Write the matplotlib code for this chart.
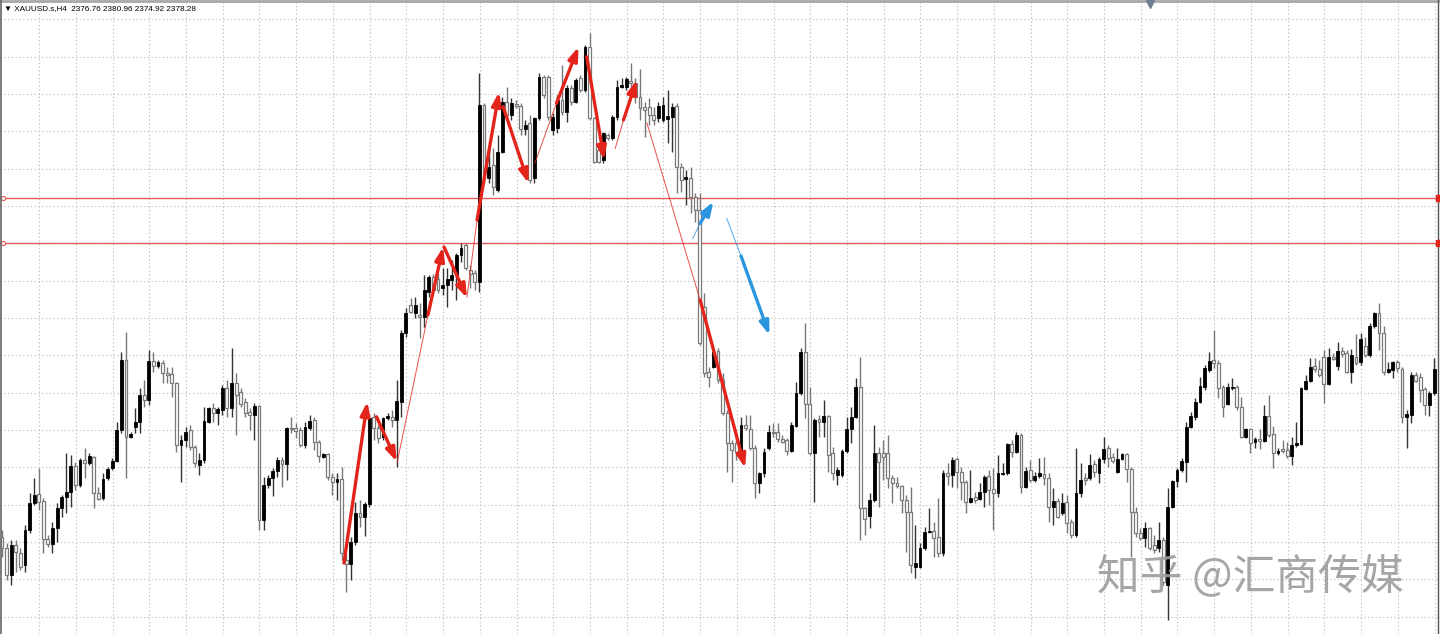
import matplotlib
matplotlib.use("Agg")
import matplotlib.pyplot as plt
import numpy as np

# XAUUSD.s H4 candles
opens = [2335.75, 2333.0, 2326.25, 2333.75, 2331.75, 2328.75, 2337.5, 2344.25, 2346.5, 2344.75,
         2335.25, 2334.0, 2338.0, 2343.0, 2345.75, 2347.0, 2353.5, 2348.75, 2355.0, 2354.25,
         2355.75, 2346.75, 2345.5, 2350.5, 2353.0, 2354.75, 2362.5, 2380.0, 2360.75, 2363.25,
         2364.5, 2371.25, 2370.0, 2379.75, 2378.5, 2379.25, 2376.75, 2376.5, 2374.25, 2358.75,
         2360.0, 2362.5, 2358.25, 2353.75, 2355.0, 2364.5, 2368.0, 2366.75, 2367.5, 2373.0,
         2368.0, 2374.25, 2372.0, 2369.5, 2367.0, 2366.25, 2368.5, 2340.0, 2348.75, 2350.5,
         2352.25, 2355.0, 2354.0, 2363.0, 2363.0, 2362.5, 2358.75, 2363.0, 2365.0, 2359.5,
         2355.75, 2356.5, 2350.75, 2349.5, 2350.25, 2330.0, 2329.0, 2334.5, 2341.75, 2340.75,
         2344.0, 2365.75, 2363.0, 2360.75, 2365.5, 2365.75, 2365.0, 2369.5, 2386.75, 2393.75,
         2391.75, 2391.25, 2390.75, 2397.0, 2400.75, 2400.25, 2398.0, 2398.75, 2400.0, 2401.25,
         2406.25, 2408.75, 2402.5, 2401.75, 2399.5, 2443.75, 2425.5, 2428.75, 2422.5, 2432.0,
         2444.5, 2441.25, 2444.0, 2443.5, 2437.75, 2439.25, 2425.5, 2440.5, 2450.75, 2450.75,
         2437.5, 2438.0, 2445.0, 2442.0, 2448.0, 2444.5, 2450.5, 2447.5, 2458.25, 2440.5,
         2432.5, 2430.0, 2436.25, 2435.5, 2440.75, 2448.25, 2448.25, 2449.75, 2449.25, 2445.75,
         2443.25, 2443.25, 2441.25, 2440.5, 2440.0, 2440.25, 2440.75, 2443.5, 2428.25, 2425.25,
         2425.5, 2420.75, 2417.5, 2393.25, 2377.0, 2378.25, 2382.25, 2375.0, 2366.75, 2359.25,
         2359.25, 2357.5, 2363.75, 2362.75, 2358.0, 2349.25, 2351.75, 2358.0, 2362.0, 2362.0,
         2360.25, 2360.0, 2357.25, 2363.5, 2371.75, 2382.0, 2369.0, 2356.75, 2365.25, 2364.5,
         2366.0, 2356.75, 2351.25, 2351.25, 2357.25, 2362.75, 2365.75, 2373.25, 2343.0, 2341.0,
         2345.0, 2356.75, 2356.75, 2356.75, 2350.5, 2349.25, 2348.5, 2345.0, 2342.0, 2328.25,
         2328.25, 2333.0, 2337.0, 2337.25, 2335.75, 2331.75, 2351.75, 2351.25, 2355.25, 2352.0,
         2349.5, 2344.5, 2345.75, 2345.25, 2347.0, 2351.0, 2347.75, 2346.75, 2351.5, 2351.75,
         2359.0, 2357.0, 2361.25, 2348.25, 2352.5, 2350.0, 2351.0, 2351.5, 2350.5, 2343.25,
         2344.75, 2341.75, 2344.5, 2339.5, 2336.25, 2346.75, 2350.5, 2350.5, 2354.0, 2351.75,
         2355.25, 2358.0, 2355.75, 2352.0, 2355.25, 2356.5, 2352.75, 2342.0, 2336.75, 2335.5,
         2338.0, 2333.75, 2333.0, 2335.0, 2323.75, 2343.25, 2349.75, 2352.5, 2354.5, 2363.25,
         2365.75, 2369.5, 2373.25, 2377.5, 2380.0, 2379.25, 2373.25, 2369.0, 2373.0, 2373.25,
         2368.25, 2360.75, 2362.75, 2359.5, 2360.25, 2359.75, 2366.0, 2361.5, 2356.75, 2357.75,
         2357.5, 2356.0, 2358.75, 2359.0, 2372.75, 2374.75, 2378.5, 2377.75, 2380.75, 2374.0,
         2380.75, 2378.5, 2382.25, 2381.75, 2377.0, 2380.75, 2379.5, 2383.5, 2381.25, 2388.5,
         2391.75, 2386.75, 2377.0, 2377.5, 2379.5, 2377.75, 2365.75, 2366.25, 2376.25, 2375.75,
         2372.75, 2368.75, 2371.75]
highs = [2337.5, 2334.25, 2335.0, 2335.0, 2333.0, 2338.75, 2346.75, 2350.5, 2353.0, 2345.5,
         2336.25, 2339.5, 2344.25, 2346.25, 2356.75, 2356.25, 2354.5, 2355.5, 2358.0, 2356.75,
         2356.0, 2348.25, 2351.75, 2353.25, 2355.5, 2364.5, 2382.0, 2387.0, 2362.0, 2368.0,
         2373.0, 2375.0, 2382.5, 2382.0, 2380.0, 2380.0, 2378.25, 2378.25, 2374.5, 2361.25,
         2363.25, 2363.75, 2358.75, 2356.75, 2368.25, 2368.25, 2369.25, 2368.25, 2373.75, 2375.0,
         2383.0, 2376.75, 2373.0, 2370.5, 2368.0, 2369.25, 2368.75, 2350.75, 2351.25, 2353.0,
         2355.75, 2355.75, 2363.25, 2365.75, 2364.25, 2363.25, 2364.5, 2366.25, 2365.75, 2360.0,
         2356.75, 2356.75, 2351.75, 2351.75, 2353.25, 2331.75, 2335.75, 2344.5, 2345.0, 2344.5,
         2366.25, 2366.75, 2363.75, 2365.75, 2366.75, 2367.5, 2375.0, 2387.5, 2393.0, 2395.5,
         2395.75, 2394.25, 2401.25, 2401.25, 2401.5, 2401.75, 2403.0, 2403.0, 2405.0, 2406.75,
         2409.25, 2409.25, 2403.75, 2402.5, 2451.75, 2444.25, 2432.5, 2433.0, 2436.25, 2445.75,
         2448.25, 2445.5, 2445.0, 2444.25, 2440.0, 2441.25, 2440.75, 2451.75, 2451.25, 2451.25,
         2441.75, 2446.25, 2453.75, 2448.75, 2448.75, 2450.5, 2451.25, 2458.75, 2461.75, 2440.75,
         2433.25, 2437.0, 2436.75, 2441.25, 2450.0, 2450.5, 2450.75, 2454.25, 2450.5, 2452.75,
         2444.5, 2445.5, 2443.25, 2444.5, 2445.75, 2447.5, 2444.25, 2444.25, 2429.25, 2427.5,
         2428.25, 2421.75, 2421.75, 2396.75, 2378.25, 2383.0, 2383.0, 2376.75, 2367.5, 2360.0,
         2360.5, 2365.75, 2366.25, 2366.25, 2358.75, 2352.0, 2358.0, 2363.75, 2364.25, 2364.25,
         2361.25, 2360.5, 2364.5, 2374.5, 2383.0, 2389.25, 2373.25, 2365.5, 2366.25, 2370.0,
         2366.25, 2358.25, 2353.25, 2357.75, 2365.75, 2368.25, 2375.5, 2380.75, 2343.25, 2346.75,
         2363.75, 2358.25, 2360.0, 2361.25, 2351.25, 2350.75, 2348.75, 2346.25, 2348.25, 2338.75,
         2334.25, 2338.25, 2343.0, 2339.5, 2345.5, 2352.5, 2354.25, 2355.75, 2355.75, 2353.25,
         2350.0, 2352.5, 2347.0, 2349.25, 2351.25, 2352.5, 2353.0, 2356.25, 2354.25, 2359.25,
         2360.0, 2362.0, 2361.75, 2353.25, 2355.0, 2352.0, 2355.5, 2355.75, 2351.75, 2348.0,
         2345.5, 2346.75, 2346.25, 2340.25, 2358.0, 2354.25, 2351.75, 2356.5, 2355.0, 2355.75,
         2360.75, 2358.75, 2356.75, 2358.0, 2356.75, 2356.75, 2353.25, 2343.25, 2338.0, 2339.5,
         2338.25, 2336.25, 2339.5, 2335.75, 2348.0, 2350.0, 2353.0, 2355.5, 2364.5, 2367.0,
         2370.5, 2375.75, 2378.75, 2382.0, 2387.5, 2380.0, 2373.75, 2374.25, 2375.5, 2373.75,
         2370.75, 2363.0, 2363.0, 2360.75, 2362.75, 2368.75, 2371.25, 2363.5, 2358.0, 2360.0,
         2359.5, 2360.75, 2364.5, 2373.25, 2376.25, 2380.5, 2380.5, 2380.0, 2382.5, 2383.0,
         2381.75, 2384.5, 2383.25, 2382.5, 2382.75, 2386.5, 2386.75, 2385.75, 2389.25, 2392.0,
         2394.25, 2388.5, 2379.5, 2379.75, 2380.0, 2378.25, 2367.5, 2377.0, 2377.0, 2376.75,
         2373.25, 2372.25, 2380.5]
lows = [2330.75, 2325.0, 2323.75, 2327.0, 2327.5, 2327.0, 2336.75, 2343.75, 2342.5, 2331.75,
        2333.25, 2331.75, 2334.5, 2340.75, 2341.75, 2343.25, 2347.5, 2348.25, 2350.5, 2353.75,
        2343.0, 2345.0, 2345.0, 2350.0, 2352.5, 2354.5, 2361.75, 2350.5, 2360.5, 2361.75,
        2361.75, 2368.25, 2368.75, 2377.0, 2378.0, 2374.25, 2374.25, 2370.75, 2357.0, 2349.5,
        2358.25, 2357.5, 2353.25, 2351.25, 2354.25, 2364.25, 2364.5, 2363.75, 2366.25, 2365.75,
        2365.75, 2361.25, 2368.25, 2365.75, 2362.5, 2360.0, 2337.5, 2337.5, 2348.0, 2346.0,
        2350.75, 2348.25, 2350.0, 2361.75, 2360.5, 2358.25, 2358.0, 2362.5, 2357.5, 2354.5,
        2355.5, 2350.0, 2346.25, 2345.0, 2330.0, 2322.0, 2325.0, 2333.75, 2338.25, 2336.0,
        2343.25, 2360.0, 2359.25, 2360.0, 2365.0, 2363.25, 2353.25, 2365.75, 2385.75, 2391.75,
        2390.5, 2385.5, 2388.25, 2395.75, 2396.75, 2396.75, 2396.25, 2393.25, 2397.5, 2395.0,
        2404.5, 2402.5, 2398.0, 2397.5, 2397.0, 2424.25, 2424.25, 2421.25, 2422.0, 2431.75,
        2440.0, 2440.0, 2443.0, 2436.25, 2436.25, 2424.25, 2424.25, 2440.0, 2445.5, 2440.0,
        2436.25, 2436.75, 2441.25, 2439.5, 2443.75, 2444.25, 2447.0, 2447.0, 2440.0, 2429.25,
        2429.25, 2429.25, 2435.0, 2435.0, 2440.0, 2448.0, 2447.5, 2448.25, 2444.25, 2440.0,
        2435.75, 2438.75, 2438.75, 2439.5, 2439.5, 2434.25, 2432.0, 2421.75, 2422.0, 2418.75,
        2416.75, 2414.5, 2383.75, 2375.75, 2373.25, 2378.0, 2374.25, 2366.25, 2352.0, 2349.5,
        2355.0, 2356.75, 2362.5, 2357.5, 2345.5, 2346.75, 2350.75, 2357.5, 2360.75, 2359.5,
        2359.25, 2356.25, 2357.0, 2363.25, 2371.25, 2365.5, 2356.25, 2344.5, 2360.75, 2360.75,
        2352.0, 2350.0, 2348.75, 2350.75, 2356.75, 2359.25, 2365.5, 2335.0, 2336.25, 2338.0,
        2344.5, 2343.25, 2350.0, 2348.0, 2344.25, 2348.0, 2341.75, 2332.0, 2326.75, 2325.5,
        2328.0, 2332.5, 2336.75, 2330.75, 2330.75, 2331.0, 2348.75, 2348.25, 2348.0, 2345.0,
        2341.75, 2344.25, 2344.25, 2345.0, 2343.25, 2343.75, 2337.5, 2345.75, 2351.25, 2351.25,
        2355.75, 2356.75, 2346.75, 2348.0, 2349.5, 2349.5, 2350.5, 2348.75, 2339.5, 2338.75,
        2340.5, 2341.25, 2336.75, 2335.5, 2335.75, 2345.75, 2348.75, 2350.0, 2350.75, 2349.25,
        2354.25, 2353.25, 2354.25, 2351.75, 2355.0, 2349.5, 2330.75, 2335.75, 2335.0, 2333.25,
        2332.5, 2331.75, 2332.0, 2323.75, 2315.0, 2343.0, 2348.25, 2352.0, 2349.5, 2363.0,
        2365.0, 2369.25, 2372.5, 2377.0, 2378.0, 2370.5, 2365.75, 2368.75, 2372.5, 2367.5,
        2360.5, 2360.5, 2356.75, 2358.0, 2357.75, 2359.5, 2360.75, 2353.0, 2356.25, 2356.75,
        2355.5, 2353.75, 2358.25, 2358.75, 2372.5, 2374.5, 2377.0, 2375.75, 2369.25, 2373.75,
        2380.0, 2377.5, 2380.75, 2376.75, 2374.25, 2378.75, 2378.75, 2380.75, 2380.75, 2388.0,
        2382.5, 2376.25, 2376.75, 2375.5, 2377.0, 2364.25, 2358.0, 2364.25, 2374.5, 2369.5,
        2366.25, 2366.0, 2371.25]
closes = [2333.0, 2326.25, 2333.75, 2332.0, 2328.25, 2337.5, 2344.25, 2346.25, 2344.5, 2335.25,
          2334.0, 2338.0, 2343.0, 2345.75, 2347.0, 2353.5, 2348.75, 2355.0, 2354.25, 2356.0,
          2346.75, 2345.25, 2350.25, 2352.75, 2354.75, 2362.5, 2380.0, 2360.75, 2361.5, 2364.5,
          2371.25, 2370.0, 2379.75, 2378.5, 2379.5, 2376.75, 2376.25, 2374.25, 2358.75, 2360.0,
          2362.0, 2358.25, 2354.25, 2355.0, 2364.75, 2368.0, 2366.75, 2367.75, 2373.0, 2368.0,
          2374.25, 2371.25, 2369.0, 2366.75, 2366.25, 2368.5, 2340.0, 2348.75, 2350.5, 2352.25,
          2355.0, 2354.0, 2363.0, 2362.75, 2362.25, 2358.75, 2363.25, 2364.75, 2359.5, 2356.0,
          2356.5, 2350.75, 2349.5, 2350.25, 2331.75, 2329.0, 2334.5, 2341.75, 2340.75, 2344.0,
          2365.5, 2363.0, 2360.5, 2365.5, 2366.0, 2365.0, 2369.75, 2386.75, 2391.75, 2392.0,
          2393.75, 2390.75, 2397.5, 2400.75, 2397.5, 2397.5, 2398.75, 2400.25, 2401.25, 2406.25,
          2408.0, 2403.0, 2401.5, 2399.5, 2443.75, 2425.75, 2428.25, 2423.25, 2432.0, 2444.5,
          2441.25, 2444.25, 2443.5, 2437.75, 2438.75, 2425.0, 2440.5, 2450.75, 2446.25, 2440.75,
          2440.75, 2445.0, 2442.0, 2448.0, 2444.5, 2450.0, 2447.5, 2458.25, 2440.5, 2429.5,
          2429.5, 2436.75, 2435.5, 2440.75, 2448.25, 2448.75, 2450.25, 2449.25, 2445.75, 2443.0,
          2442.5, 2441.25, 2440.0, 2443.5, 2443.75, 2441.0, 2443.25, 2428.25, 2425.0, 2425.75,
          2420.75, 2417.5, 2384.25, 2376.75, 2375.75, 2382.0, 2375.0, 2366.75, 2359.25, 2357.5,
          2357.0, 2363.75, 2363.0, 2358.0, 2349.25, 2351.75, 2357.0, 2362.0, 2361.75, 2360.25,
          2359.5, 2357.25, 2363.75, 2371.75, 2382.0, 2369.0, 2356.75, 2365.0, 2364.5, 2366.0,
          2356.25, 2351.75, 2352.5, 2357.25, 2362.75, 2365.75, 2373.25, 2343.0, 2340.25, 2345.0,
          2356.75, 2354.5, 2355.75, 2350.5, 2349.25, 2348.5, 2345.0, 2342.0, 2328.75, 2329.25,
          2333.0, 2337.0, 2337.25, 2335.5, 2331.75, 2351.75, 2351.0, 2355.0, 2352.0, 2349.5,
          2344.5, 2345.5, 2345.0, 2347.0, 2350.75, 2347.5, 2346.75, 2351.75, 2351.75, 2359.0,
          2357.0, 2361.25, 2348.25, 2352.25, 2350.0, 2351.0, 2351.75, 2350.5, 2343.25, 2344.75,
          2340.75, 2344.25, 2339.25, 2336.25, 2346.75, 2350.0, 2350.0, 2353.75, 2352.0, 2355.25,
          2357.75, 2355.5, 2354.75, 2355.25, 2356.5, 2352.75, 2342.0, 2336.75, 2335.5, 2338.0,
          2333.0, 2332.5, 2335.0, 2324.5, 2343.25, 2349.75, 2352.5, 2354.75, 2363.25, 2366.0,
          2369.5, 2373.5, 2378.0, 2379.75, 2379.25, 2373.0, 2368.25, 2373.25, 2373.25, 2368.25,
          2360.75, 2362.75, 2359.25, 2360.25, 2359.75, 2366.0, 2361.25, 2356.75, 2357.25, 2357.25,
          2356.0, 2358.75, 2359.25, 2373.0, 2374.75, 2378.25, 2377.75, 2376.25, 2374.0, 2380.75,
          2380.25, 2382.25, 2381.5, 2377.0, 2381.25, 2379.25, 2385.25, 2381.25, 2388.5, 2391.75,
          2386.75, 2377.0, 2377.75, 2379.5, 2378.0, 2365.75, 2366.5, 2376.25, 2374.75, 2372.5,
          2368.75, 2371.75, 2377.75]

# horizontal levels
levels = [2420.4, 2409.2]

# hand drawn arrows: (x0, y0, x1, y1) in bar / price, the thin lead-in part then the arrow part
red_tails = [(86.1, 2354.5, 92.8, 2391.25), (101.3, 2395.75, 103.5, 2415.0),
             (116.1, 2429.2, 120.8, 2444.2), (133.6, 2432.9, 135.4, 2440.0),
             (140.5, 2439.25, 152.1, 2395.0)]
red_arrows = [(74.5, 2329.25, 79.6, 2369.6), (81.6, 2365.8, 86.0, 2354.6),
              (92.8, 2391.25, 96.1, 2408.25), (96.3, 2408.25, 101.3, 2395.5),
              (103.5, 2415.0, 108.3, 2447.0), (109.2, 2443.3, 114.7, 2424.2),
              (120.8, 2444.2, 125.6, 2458.3), (127.4, 2455.8, 131.2, 2430.0),
              (135.4, 2440.0, 138.3, 2450.0), (152.1, 2395.0, 161.9, 2353.0)]
blue_tails = [(150.5, 2410.4, 152.1, 2414.2), (157.9, 2415.4, 161.0, 2406.0)]
blue_arrows = [(152.1, 2414.2, 155.0, 2419.6), (161.0, 2406.0, 167.2, 2386.25)]

title = "\u25bc XAUUSD.s,H4  2376.76 2380.96 2374.92 2378.28"
watermark = "知乎 @汇商传媒"

# ------------------------------------------------------------------
o = np.array(opens)
h = np.array(highs)
l = np.array(lows)
c = np.array(closes)
x = np.arange(len(o))
bull = c >= o

fig = plt.figure(figsize=(14.4, 6.34), dpi=100)
ax = fig.add_axes([0, 0, 1, 1])
px = 4.59  # pixels per bar
ax.set_xlim(-2 / px, (1440 - 2) / px)
ax.set_ylim(2470 - 634 / 4, 2470)
ax.axis("off")

# dotted grid, one vertical line every 8 bars
for gx in np.arange(8.1, len(o) + 2, 8):
    ax.axvline(gx, color="#c2c2c2", lw=0.8, ls=(0, (1.2, 2.2)), zorder=0)
for gy in 2465.2 - 9.3375 * np.arange(0, 17):
    ax.axhline(gy, color="#c2c2c2", lw=0.8, ls=(0, (1.2, 2.2)), zorder=0)

for lv in levels:
    ax.axhline(lv, color="#e35b5b", lw=1.0, zorder=1)
    ax.plot(0.2, lv, "o", ms=3, mfc="white", mec="#e35b5b", mew=0.8, zorder=5)

# candles
ax.vlines(x[bull], l[bull], h[bull], color="#333333", lw=1.0, zorder=2)
ax.vlines(x[~bull], l[~bull], h[~bull], color="#777777", lw=1.0, zorder=2)
body_lo = np.minimum(o, c)
body_h = np.maximum(np.abs(c - o), 0.3)
ax.bar(x[bull], body_h[bull], bottom=body_lo[bull], width=0.62,
       color="black", edgecolor="black", lw=0.6, zorder=3)
ax.bar(x[~bull], body_h[~bull], bottom=body_lo[~bull], width=0.62,
       color="white", edgecolor="#7a7a7a", lw=0.9, zorder=3)

# arrows
def draw(tails, arrows, col):
    for x0, y0, x1, y1 in tails:
        ax.plot([x0, x1], [y0, y1], color=col, lw=0.7, alpha=0.8, zorder=6)
    for x0, y0, x1, y1 in arrows:
        ax.annotate("", xy=(x1, y1), xytext=(x0, y0), zorder=7,
                    arrowprops=dict(arrowstyle="-|>,head_length=0.8,head_width=0.28",
                                    color=col, lw=2.4, shrinkA=0, shrinkB=0))

draw(red_tails, red_arrows, "#e3241b")
draw(blue_tails, blue_arrows, "#2b95e0")

# frame
ax.plot([0, 1], [0.998, 0.998], transform=ax.transAxes, color="#a8a8a8", lw=2.0, zorder=8)
ax.plot([0.0008, 0.0008], [0, 1], transform=ax.transAxes, color="#666666", lw=1.2, zorder=8)
ax.plot([0.9983, 0.9983], [0, 1], transform=ax.transAxes, color="#555555", lw=1.0, zorder=8)
ax.plot(1150 / 1440, 1 - 4 / 634, "v", transform=ax.transAxes, ms=6, color="#6f7f90", zorder=9)
for lv in levels:
    ax.plot(1439 / 1440, lv, "s", ms=4, color="#e3241b", zorder=9,
            transform=ax.get_yaxis_transform())

fig.text(4 / 1440, 1 - 9 / 634, title, fontsize=5.9, va="center", ha="left",
         family=["Liberation Sans", "DejaVu Sans"], color="black")
fig.text(1097 / 1440, 1 - 578 / 634, watermark, fontsize=30.8, va="center", ha="left",
         family=["Noto Sans CJK SC", "DejaVu Sans"], color="#9c9c9c", alpha=0.9, zorder=10)

fig.savefig("out.png", dpi=100, facecolor="white")
